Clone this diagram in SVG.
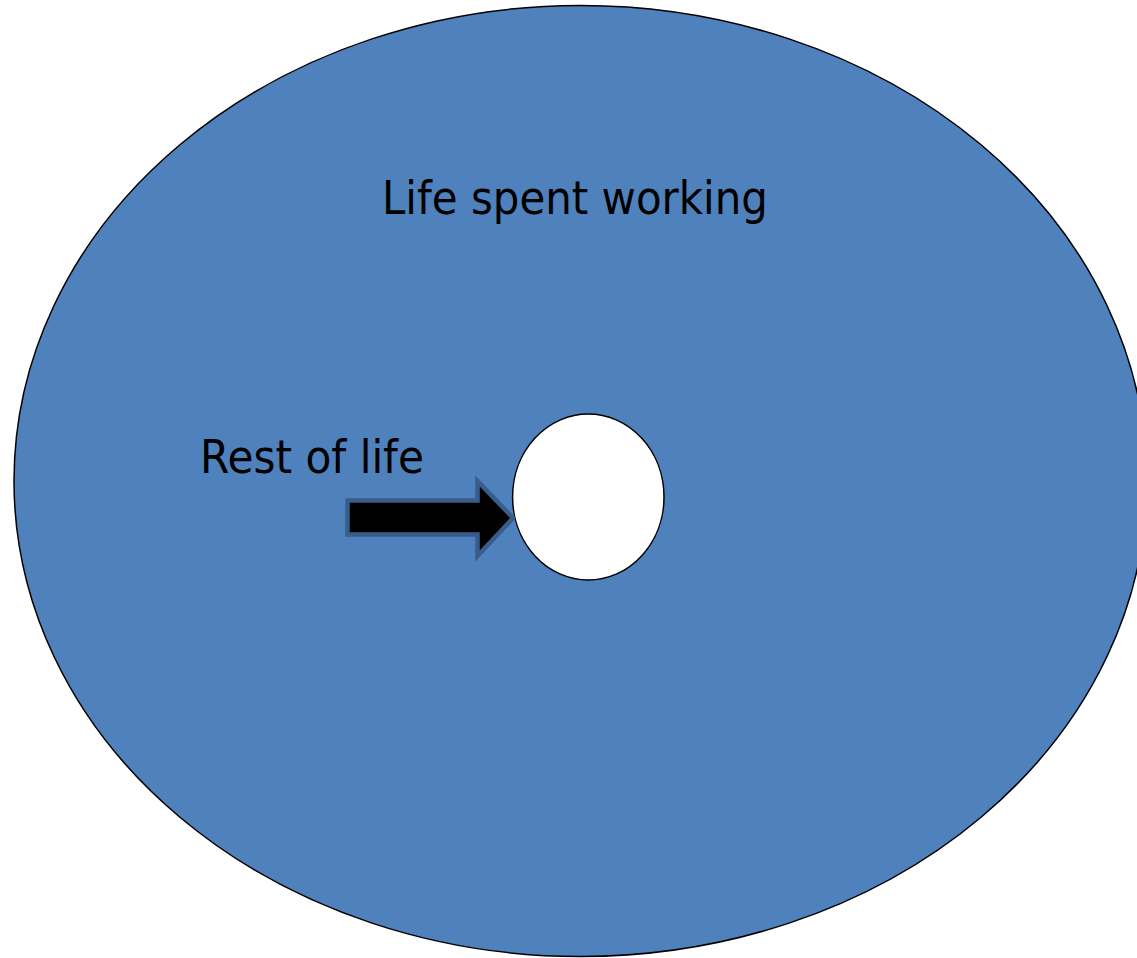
<svg xmlns="http://www.w3.org/2000/svg" width="1137" height="958" viewBox="0 0 1137 958">
<style>
.lbl{font-family:"DejaVu Sans","Verdana",sans-serif;font-size:47px;fill:#000}
</style>
<rect width="1137" height="958" fill="#fff"/>
<g id="outer">
<ellipse cx="580.5" cy="481" rx="566.5" ry="475.5" fill="#4f81bd" stroke="#000" stroke-width="1.5"/>
<text class="lbl" x="382" y="214" textLength="386" lengthAdjust="spacingAndGlyphs">Life spent working</text>
</g>
<g id="inner">
<ellipse cx="588.3" cy="497" rx="75.7" ry="83" fill="#fff" stroke="#000" stroke-width="1.5"/>
</g>
<g id="label">
<text class="lbl" x="200" y="473" textLength="224" lengthAdjust="spacingAndGlyphs">Rest of life</text>
</g>
<g id="connectors">
<path d="M347.5,500.5 H477.5 V481 L513,518 L477.5,556 V534.5 H347.5 Z" fill="#000" stroke="#385d8a" stroke-width="4.5" stroke-linejoin="miter"/>
</g>
</svg>
